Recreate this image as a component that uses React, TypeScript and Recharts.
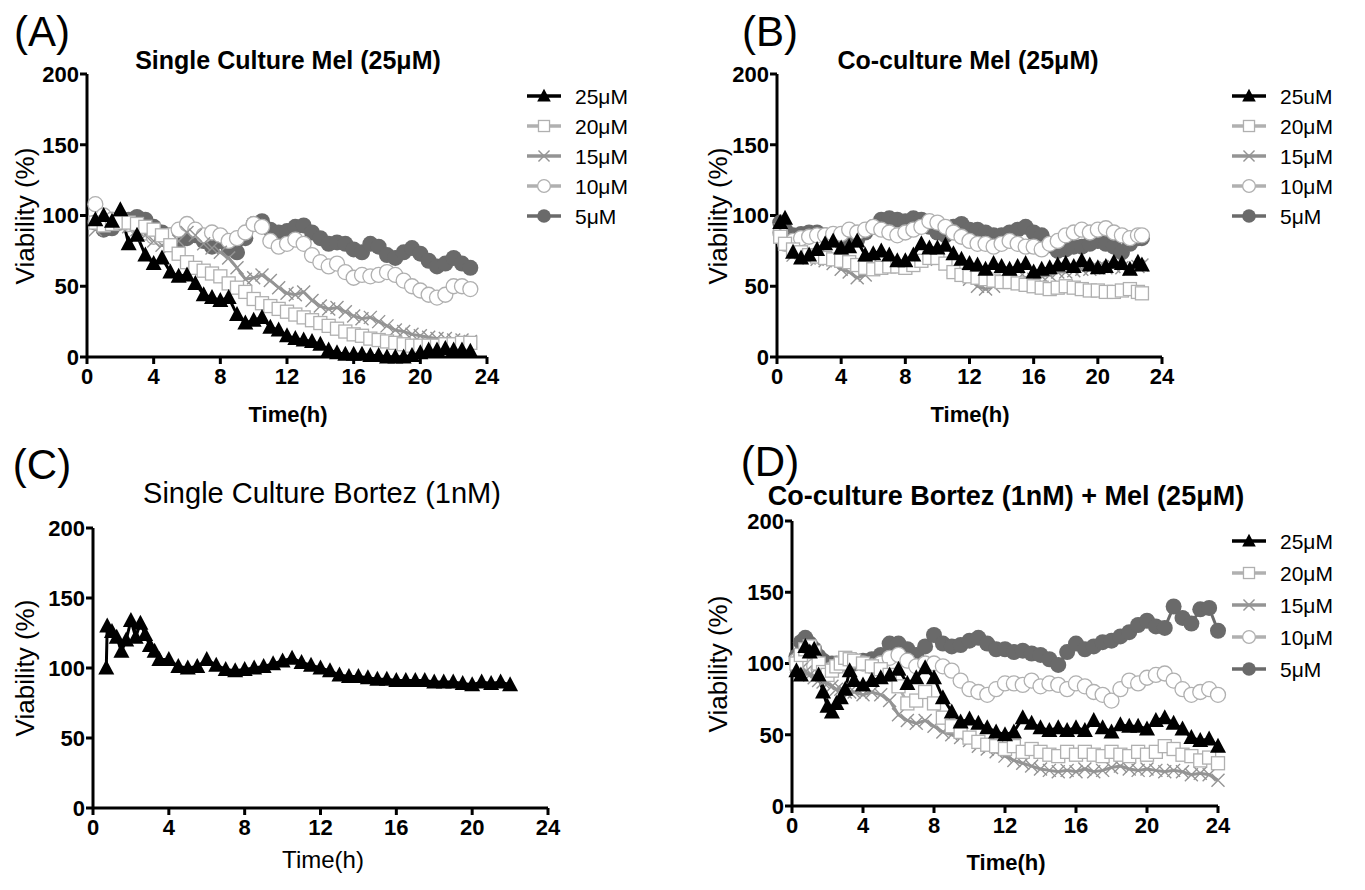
import React from 'react';
import { LineChart, Line, XAxis, YAxis } from 'recharts';

const FONT = "'Liberation Sans', Arial, Helvetica, sans-serif";

const X_TICKS = [0, 4, 8, 12, 16, 20, 24];
const Y_TICKS = [0, 50, 100, 150, 200];

// ---------- Panel A: Single Culture Mel ----------
const A_TIME = [0.5, 1, 1.5, 2, 2.5, 3, 3.5, 4, 4.5, 5, 5.5, 6, 6.5, 7, 7.5, 8, 8.5, 9, 9.5, 10, 10.5, 11, 11.5, 12, 12.5, 13, 13.5, 14, 14.5, 15, 15.5, 16, 16.5, 17, 17.5, 18, 18.5, 19, 19.5, 20, 20.5, 21, 21.5, 22, 22.5, 23];
const A_25 = [97, 100, 96, 104, 80, 86, 72, 66, 70, 60, 57, 58, 52, 44, 42, 40, 42, 30, 24, 26, 28, 21, 19, 15, 13, 12, 11, 9, 5, 3, 2, 2, 2, 1, 1, 0, 0, 0, 1, 3, 5, 5, 6, 5, 5, 4];
const A_20 = [95, 93, 94, 95, 95, 94, 92, 90, 86, 79, 73, 67, 63, 61, 59, 57, 52, 49, 46, 41, 38, 36, 34, 32, 30, 28, 26, 24, 22, 20, 18, 16, 15, 13, 12, 11, 10, 9, 8, 8, 8, 8, 9, 9, 10, 10];
const A_15 = [90, 93, 94, 95, 92, 90, 86, 82, 79, 78, 82, 88, 86, 80, 77, 74, 70, 63, 55, 56, 58, 54, 49, 45, 44, 46, 40, 36, 34, 35, 32, 29, 27, 28, 25, 22, 19, 18, 16, 15, 14, 13, 13, 12, 12, 11];
const A_10 = [108, 100, 97, 96, 94, 92, 88, 85, 84, 86, 90, 94, 90, 86, 88, 86, 82, 84, 88, 94, 92, 82, 78, 80, 83, 80, 72, 67, 64, 66, 60, 56, 58, 57, 58, 60, 58, 54, 50, 47, 44, 42, 44, 50, 50, 48];
const A_5 = [95, 90, 91, 95, 97, 99, 97, 92, 88, 86, 82, 84, 86, 82, 78, 82, 77, 74, 84, 94, 96, 90, 88, 89, 92, 93, 88, 84, 80, 81, 80, 76, 74, 80, 78, 72, 70, 74, 77, 73, 68, 64, 66, 70, 66, 63];

// ---------- Panel B: Co-culture Mel ----------
const B_TIME = [0.2, 0.5, 1, 1.5, 2, 2.5, 3, 3.5, 4, 4.5, 5, 5.5, 6, 6.5, 7, 7.5, 8, 8.5, 9, 9.5, 10, 10.5, 11, 11.5, 12, 12.5, 13, 13.5, 14, 14.5, 15, 15.5, 16, 16.5, 17, 17.5, 18, 18.5, 19, 19.5, 20, 20.5, 21, 21.5, 22, 22.5, 22.75];
const B_25 = [95, 98, 74, 70, 72, 76, 80, 82, 77, 78, 82, 72, 73, 75, 72, 68, 68, 72, 80, 77, 77, 79, 73, 69, 66, 65, 62, 66, 64, 62, 64, 66, 60, 62, 63, 65, 66, 64, 68, 65, 63, 64, 67, 66, 62, 67, 65];
const B_20 = [85, 80, 76, 74, 72, 71, 70, 69, 68, 67, 65, 63, 62, 63, 64, 64, 63, 65, 68, 70, 70, 66, 60, 58, 57, 56, 55, 54, 53, 53, 52, 51, 50, 49, 48, 49, 50, 49, 48, 47, 47, 46, 46, 47, 48, 46, 45];
const B_15 = [90, 80, 72, 71, 70, 69, 68, 66, 62, 60, 56, 58, 62, 64, 65, 64, 63, 66, 68, 70, 69, 66, 62, 58, 55, 50, 48, 50, 54, 55, 55, 56, 55, 57, 58, 60, 60, 61, 62, 62, 63, 63, 64, 63, 62, 64, 65];
const B_10 = [88, 80, 82, 84, 85, 86, 86, 87, 87, 90, 88, 90, 92, 90, 88, 86, 88, 90, 92, 96, 95, 92, 88, 85, 82, 80, 80, 78, 80, 82, 80, 78, 78, 76, 80, 82, 86, 88, 90, 88, 90, 91, 88, 86, 84, 86, 86];
const B_5 = [95, 90, 86, 87, 88, 88, 86, 83, 81, 81, 83, 88, 92, 97, 98, 97, 96, 98, 97, 92, 88, 86, 92, 94, 90, 90, 88, 86, 86, 88, 90, 92, 88, 86, 79, 75, 76, 78, 78, 80, 82, 80, 78, 74, 80, 84, 84];

// ---------- Panel C: Single Culture Bortez ----------
const C_TIME = [0.7, 0.75, 1, 1.25, 1.5, 1.75, 2, 2.25, 2.5, 2.75, 3, 3.25, 3.5, 4, 4.5, 5, 5.5, 6, 6.5, 7, 7.5, 8, 8.5, 9, 9.5, 10, 10.5, 11, 11.5, 12, 12.5, 13, 13.5, 14, 14.5, 15, 15.5, 16, 16.5, 17, 17.5, 18, 18.5, 19, 19.5, 20, 20.5, 21, 21.5, 22];
const C_1NM = [100, 130, 126, 122, 112, 120, 134, 122, 132, 124, 116, 112, 106, 106, 101, 100, 101, 106, 102, 99, 98, 99, 100, 101, 103, 105, 107, 104, 102, 100, 98, 95, 94, 94, 93, 92, 92, 91, 91, 91, 91, 90, 90, 90, 89, 88, 90, 89, 90, 88];

// ---------- Panel D: Co-culture Bortez + Mel ----------
const D_TIME = [0.25, 0.5, 0.75, 1, 1.25, 1.5, 1.75, 2, 2.25, 2.5, 2.75, 3, 3.25, 3.5, 4, 4.5, 5, 5.5, 6, 6.5, 7, 7.5, 8, 8.5, 9, 9.5, 10, 10.5, 11, 11.5, 12, 12.5, 13, 13.5, 14, 14.5, 15, 15.5, 16, 16.5, 17, 17.5, 18, 18.5, 19, 19.5, 20, 20.5, 21, 21.5, 22, 22.5, 23, 23.5, 24];
const D_25 = [95, 92, 112, 108, 110, 92, 80, 70, 66, 72, 76, 82, 95, 88, 85, 88, 90, 92, 96, 86, 90, 97, 90, 76, 66, 59, 61, 58, 55, 52, 50, 52, 62, 58, 55, 53, 55, 53, 55, 53, 60, 55, 52, 57, 56, 56, 54, 60, 62, 58, 54, 48, 46, 47, 42];
const D_20 = [100, 106, 110, 112, 108, 100, 94, 92, 95, 98, 100, 104, 103, 102, 100, 98, 96, 92, 84, 72, 74, 80, 72, 62, 56, 52, 48, 45, 43, 42, 40, 42, 38, 40, 38, 36, 35, 38, 36, 38, 36, 35, 38, 36, 35, 38, 36, 38, 42, 40, 36, 35, 32, 34, 30];
const D_15 = [98, 96, 94, 92, 90, 88, 87, 86, 84, 82, 82, 80, 80, 80, 78, 80, 78, 74, 64, 60, 58, 60, 56, 52, 50, 48, 46, 42, 40, 38, 35, 32, 30, 28, 26, 25, 24, 25, 24, 26, 24, 25, 27, 28, 26, 25, 26, 25, 24, 25, 24, 22, 23, 22, 18];
const D_10 = [102, 105, 104, 100, 98, 96, 95, 95, 96, 98, 100, 101, 102, 102, 100, 98, 100, 104, 106, 102, 98, 100, 100, 98, 95, 88, 82, 80, 78, 82, 86, 86, 85, 88, 84, 86, 85, 82, 86, 84, 80, 78, 74, 82, 88, 86, 90, 92, 93, 88, 82, 78, 80, 82, 78];
const D_5 = [105, 115, 118, 114, 110, 105, 102, 100, 100, 100, 100, 100, 100, 100, 102, 103, 106, 114, 114, 110, 106, 112, 120, 114, 112, 113, 116, 118, 114, 110, 110, 108, 109, 107, 106, 103, 99, 108, 114, 110, 112, 115, 116, 119, 122, 127, 130, 126, 125, 140, 132, 128, 138, 139, 123];

const LEGEND_NAMES = ['25μM', '20μM', '15μM', '10μM', '5μM'];
const LEGEND_NAMES_B = ['25uM', '20μM', '15μM', '10μM', '5μM'];

// ---------- styles ----------
const C_BLACK = '#000000';
const C_LIGHT = '#b0b0b0';
const C_MID = '#949494';
const C_DARK = '#6a6a6a';

type MK = 'tri' | 'sq' | 'x' | 'oc' | 'fc';

function Marker({ kind, cx, cy, scale = 1 }: { kind: MK; cx: number; cy: number; scale?: number }) {
  if (cx == null || cy == null || isNaN(cx) || isNaN(cy)) return null;
  const k = scale;
  switch (kind) {
    case 'tri':
      return <path d={`M${cx},${cy - 8.5 * k} L${cx + 8 * k},${cy + 6.5 * k} L${cx - 8 * k},${cy + 6.5 * k} Z`} fill={C_BLACK} />;
    case 'sq':
      return <rect x={cx - 6.5 * k} y={cy - 6.5 * k} width={13 * k} height={13 * k} fill="#fff" stroke={C_LIGHT} strokeWidth={1.3} />;
    case 'x':
      return <path d={`M${cx - 6.5 * k},${cy - 6.5 * k}L${cx + 6.5 * k},${cy + 6.5 * k}M${cx - 6.5 * k},${cy + 6.5 * k}L${cx + 6.5 * k},${cy - 6.5 * k}`} stroke={C_MID} strokeWidth={1.4} fill="none" />;
    case 'oc':
      return <circle cx={cx} cy={cy} r={7.5 * k} fill="#fff" stroke={C_LIGHT} strokeWidth={1.3} />;
    case 'fc':
      return <circle cx={cx} cy={cy} r={8 * k} fill={C_DARK} />;
  }
  return null;
}

interface SeriesDef { key: string; kind: MK; line: string; }
const SERIES_ORDER: SeriesDef[] = [
  { key: 's5', kind: 'fc', line: C_DARK },
  { key: 's10', kind: 'oc', line: C_LIGHT },
  { key: 's15', kind: 'x', line: C_MID },
  { key: 's20', kind: 'sq', line: C_LIGHT },
  { key: 's25', kind: 'tri', line: C_BLACK },
];
const LEGEND_ORDER: SeriesDef[] = [...SERIES_ORDER].reverse();

const A_DATA = A_TIME.map((t, i) => ({ t, s25: A_25[i], s20: A_20[i], s15: A_15[i], s10: A_10[i], s5: A_5[i] }));
const B_DATA = B_TIME.map((t, i) => ({ t, s25: B_25[i], s20: B_20[i], s15: B_15[i], s10: B_10[i], s5: B_5[i] }));
const C_DATA = C_TIME.map((t, i) => ({ t, s25: C_1NM[i] }));
const D_DATA = D_TIME.map((t, i) => ({ t, s25: D_25[i], s20: D_20[i], s15: D_15[i], s10: D_10[i], s5: D_5[i] }));

const tickStyle = { fontSize: 22, fontWeight: 700, fill: '#000', fontFamily: FONT };

interface PlotBox { left: number; top: number; width: number; height: number; }

function Panel({ data, series, plot }: { data: any[]; series: SeriesDef[]; plot: PlotBox }) {
  const YW = 70;
  const XH = 40;
  return (
    <div style={{ position: 'absolute', left: 0, top: 0 }}>
      <LineChart
        width={plot.left + plot.width + 20}
        height={plot.top + plot.height + XH + 5}
        data={data}
        margin={{ top: plot.top, left: plot.left - YW, right: 20, bottom: 5 }}
      >
        <XAxis
          type="number"
          dataKey="t"
          domain={[0, 24]}
          ticks={X_TICKS}
          interval={0}
          height={XH}
          axisLine={{ stroke: '#000', strokeWidth: 3 }}
          tickLine={{ stroke: '#000', strokeWidth: 3 }}
          tickSize={7}
          tickMargin={4}
          tick={tickStyle}
        />
        <YAxis
          type="number"
          domain={[0, 200]}
          ticks={Y_TICKS}
          interval={0}
          width={YW}
          axisLine={{ stroke: '#000', strokeWidth: 3 }}
          tickLine={{ stroke: '#000', strokeWidth: 3 }}
          tickSize={7}
          tickMargin={1}
          tick={tickStyle}
        />
        {series.map((s) => (
          <Line
            key={s.key}
            type="linear"
            dataKey={s.key}
            stroke={s.line}
            strokeWidth={3}
            isAnimationActive={false}
            activeDot={false}
            dot={(p: any) => (
              <g key={`${s.key}-${p.index}`}>
                <Marker kind={s.kind} cx={p.cx} cy={p.cy} />
              </g>
            )}
          />
        ))}
      </LineChart>
    </div>
  );
}

function Txt({ x, y, size, weight = 400, rotate = 0, children }: { x: number; y: number; size: number; weight?: number; rotate?: number; children: React.ReactNode }) {
  return (
    <div
      style={{
        position: 'absolute',
        left: x,
        top: y,
        transform: `translate(-50%, -50%) rotate(${rotate}deg)`,
        whiteSpace: 'nowrap',
        fontSize: size,
        fontWeight: weight,
        fontFamily: FONT,
        lineHeight: 1,
        color: '#000',
      }}
    >
      {children}
    </div>
  );
}

function LegendBox({ x, y, gap, names }: { x: number; y: number; gap: number; names: string[] }) {
  return (
    <div style={{ position: 'absolute', left: x, top: y }}>
      {LEGEND_ORDER.map((s, i) => (
        <div
          key={s.key}
          style={{ position: 'absolute', left: 0, top: i * gap - 12, height: 24, display: 'flex', alignItems: 'center', whiteSpace: 'nowrap' }}
        >
          <svg width={34} height={18} style={{ display: 'block' }}>
            <line x1={0} y1={9} x2={34} y2={9} stroke={s.line} strokeWidth={3.5} />
            <Marker kind={s.kind} cx={17} cy={9} scale={0.85} />
          </svg>
          <span style={{ marginLeft: 14, fontSize: 21, fontFamily: FONT, lineHeight: 1, color: '#000' }}>{names[i]}</span>
        </div>
      ))}
    </div>
  );
}

const PLOT_A: PlotBox = { left: 87, top: 74, width: 400, height: 283 };
const PLOT_B: PlotBox = { left: 777, top: 74, width: 385, height: 283 };
const PLOT_C: PlotBox = { left: 93, top: 528, width: 455, height: 280 };
const PLOT_D: PlotBox = { left: 792, top: 521, width: 426, height: 285 };

export default function App() {
  return (
    <div style={{ position: 'absolute', left: 0, top: 0, width: 1365, height: 890, background: '#fff', overflow: 'hidden' }}>
      <Panel data={A_DATA} series={SERIES_ORDER} plot={PLOT_A} />
      <Panel data={B_DATA} series={SERIES_ORDER} plot={PLOT_B} />
      <Panel data={C_DATA} series={[SERIES_ORDER[4]]} plot={PLOT_C} />
      <Panel data={D_DATA} series={SERIES_ORDER} plot={PLOT_D} />

      <Txt x={42} y={32} size={42}>(A)</Txt>
      <Txt x={770} y={32} size={42}>(B)</Txt>
      <Txt x={42} y={465} size={42}>(C)</Txt>
      <Txt x={770} y={462} size={42}>(D)</Txt>

      <Txt x={288} y={60} size={25} weight={700}>Single Culture Mel (25μM)</Txt>
      <Txt x={968} y={60} size={25} weight={700}>Co-culture Mel (25μM)</Txt>
      <Txt x={322} y={493} size={29}>Single Culture Bortez (1nM)</Txt>
      <Txt x={1006} y={496} size={27} weight={700}>Co-culture Bortez (1nM) + Mel (25μM)</Txt>

      <Txt x={25} y={216} size={26} rotate={-90}>Viability (%)</Txt>
      <Txt x={718} y={216} size={26} rotate={-90}>Viability (%)</Txt>
      <Txt x={25} y={668} size={26} rotate={-90}>Viability (%)</Txt>
      <Txt x={718} y={664} size={26} rotate={-90}>Viability (%)</Txt>

      <Txt x={288} y={415} size={22} weight={700}>Time(h)</Txt>
      <Txt x={970} y={415} size={22} weight={700}>Time(h)</Txt>
      <Txt x={323} y={860} size={24}>Time(h)</Txt>
      <Txt x={1006} y={863} size={22} weight={700}>Time(h)</Txt>

      <LegendBox x={527} y={96} gap={30} names={LEGEND_NAMES} />
      <LegendBox x={1232} y={96} gap={30} names={LEGEND_NAMES_B} />
      <LegendBox x={1232} y={541} gap={32} names={LEGEND_NAMES} />
    </div>
  );
}
